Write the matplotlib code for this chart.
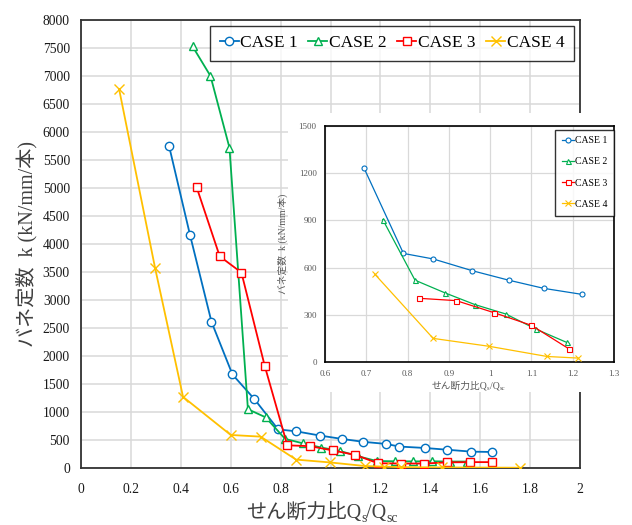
import matplotlib
matplotlib.use("Agg")
import matplotlib.pyplot as plt
from matplotlib.patches import Rectangle

# ---------------- data ----------------
case1_x = [0.353, 0.437, 0.523, 0.607, 0.695, 0.790, 0.862, 0.957, 1.045, 1.130, 1.222, 1.276, 1.377, 1.466, 1.565, 1.649]
case1_y = [5750, 4160, 2610, 1670, 1230, 690, 655, 580, 520, 468, 430, 383, 358, 327, 292, 286]

case2_x = [0.447, 0.519, 0.595, 0.669, 0.740, 0.818, 0.890, 0.963, 1.038, 1.110, 1.185, 1.259, 1.332, 1.407, 1.478, 1.548]
case2_y = [7530, 7000, 5720, 1050, 905, 520, 440, 365, 305, 210, 125, 120, 118, 120, 115, 115]

case3_x = [0.463, 0.556, 0.643, 0.736, 0.827, 0.918, 1.010, 1.100, 1.190, 1.284, 1.376, 1.466, 1.559, 1.649]
case3_y = [5020, 3780, 3490, 1830, 405, 390, 313, 233, 85, 80, 80, 100, 105, 105]

case4_x = [0.153, 0.297, 0.409, 0.600, 0.720, 0.862, 0.997, 1.138, 1.213, 1.283, 1.447, 1.758]
case4_y = [6760, 3570, 1270, 590, 560, 150, 100, 35, 25, 15, 10, 5]

labels = ["CASE 1", "CASE 2", "CASE 3", "CASE 4"]
colors = ["#0070C0", "#00B050", "#FF0000", "#FFC000"]
markers = ["o", "^", "s", "x"]
# points shown in the inset (index ranges into each series)
inset_slices = [slice(4, 11), slice(4, 11), slice(4, 9), slice(4, 9)]

main_xticks = [0, 0.2, 0.4, 0.6, 0.8, 1, 1.2, 1.4, 1.6, 1.8, 2]
main_yticks = list(range(0, 8001, 500))
inset_xticks = [0.6, 0.7, 0.8, 0.9, 1, 1.1, 1.2, 1.3]
inset_yticks = [0, 300, 600, 900, 1200, 1500]

ylabel_text = "バネ定数  k (kN/mm/本)"
xlabel_pieces = [("せん断力比Q", False), ("s", True), ("/Q", False), ("sc", True)]

series = [(case1_x, case1_y), (case2_x, case2_y), (case3_x, case3_y), (case4_x, case4_y)]

FAM = ["Liberation Serif", "Noto Sans CJK JP", "DejaVu Sans"]
plt.rcParams["font.family"] = FAM

W, H = 632, 525
fig = plt.figure(figsize=(W / 100, H / 100), dpi=100)
fig.patch.set_facecolor("white")


def fx(px):
    return px / W


def fy(py):
    return (H - py) / H


# ---------------- main axes ----------------
ax = fig.add_axes([fx(81), fy(468), fx(580) - fx(81), fy(20) - fy(468)])
for (xs, ys), lab, c, m in zip(series, labels, colors, markers):
    ax.plot(xs, ys, color=c, lw=1.3, marker=m, ms=6 if m != "x" else 6.5,
            mfc="white" if m != "x" else c, mec=c, mew=1.0, label=lab, zorder=3)
ax.set_xlim(0, 2)
ax.set_ylim(0, 8000)
ax.set_xticks(main_xticks)
ax.set_xticklabels([f"{t:g}" for t in main_xticks])
ax.set_yticks(main_yticks)
ax.grid(True, color="#d9d9d9", lw=1.1, zorder=0)
ax.set_axisbelow(True)
ax.tick_params(axis="both", length=0, labelsize=9.8, colors="#1a1a1a")
ax.tick_params(axis="x", pad=11)
ax.tick_params(axis="y", pad=8)
for s in ax.spines.values():
    s.set_color("#333333")
    s.set_linewidth(1.3)
ax.set_ylabel(ylabel_text, fontsize=14.5, color="#404040", labelpad=4)

leg = ax.legend(loc="upper right", ncol=4, fontsize=12.5, frameon=True, fancybox=False,
                edgecolor="black", handlelength=1.1, handletextpad=0.1,
                columnspacing=0.6, borderpad=0.55, bbox_to_anchor=(0.995, 0.995),
                borderaxespad=0.2)
leg.get_frame().set_linewidth(1.0)

# ---------------- inset ----------------
bg = Rectangle((fx(288), fy(392)), fx(622) - fx(288), fy(113) - fy(392),
               transform=fig.transFigure, facecolor="white", edgecolor="none", zorder=5)
fig.patches.append(bg)

ins = fig.add_axes([fx(325), fy(362), fx(614) - fx(325), fy(126) - fy(362)], zorder=6)
for (xs, ys), sl, lab, c, m in zip(series, inset_slices, labels, colors, markers):
    ins.plot(xs[sl], ys[sl], color=c, lw=0.9, marker=m, ms=3.6 if m != "x" else 3.8,
             mfc="white" if m != "x" else c, mec=c, mew=0.8, label=lab, zorder=3)
ins.set_xlim(0.6, 1.3)
ins.set_ylim(0, 1500)
ins.set_xticks(inset_xticks)
ins.set_xticklabels([f"{t:g}" for t in inset_xticks])
ins.set_yticks(inset_yticks)
ins.grid(True, color="#d9d9d9", lw=0.9)
ins.set_axisbelow(True)
ins.tick_params(axis="both", length=0, labelsize=6.5, colors="#595959", pad=6)
for s in ins.spines.values():
    s.set_color("black")
    s.set_linewidth(1.2)
ins.set_ylabel(ylabel_text, fontsize=7, color="#595959", labelpad=8)
leg2 = ins.legend(loc="upper right", fontsize=7, frameon=True, fancybox=False,
                  edgecolor="black", handlelength=1.2, handletextpad=0.1,
                  labelspacing=1.25, borderpad=0.7, bbox_to_anchor=(1.0, 0.985),
                  borderaxespad=0.0)
leg2.get_frame().set_linewidth(1.0)

# ---------------- composed x labels with subscripts ----------------
renderer = fig.canvas.get_renderer()


def composed_label(xc_px, base_px, fs, color, z):
    items = []
    total = 0.0
    for txt, sub in xlabel_pieces:
        size = fs * 0.68 if sub else fs
        t = fig.text(0, 0, txt, fontsize=size, color=color, family=FAM,
                     ha="left", va="baseline", zorder=z)
        w = t.get_window_extent(renderer=renderer).width
        items.append((t, w, sub))
        total += w
    x = xc_px - total / 2
    for t, w, sub in items:
        dy = fs * 1.389 * 0.22 if sub else 0
        t.set_position((fx(x), fy(base_px + dy)))
        x += w


composed_label(322, 518, 14.5, "#404040", 3)
composed_label(468, 388, 7, "#595959", 7)

fig.savefig("out.png", dpi=100, facecolor="white")
